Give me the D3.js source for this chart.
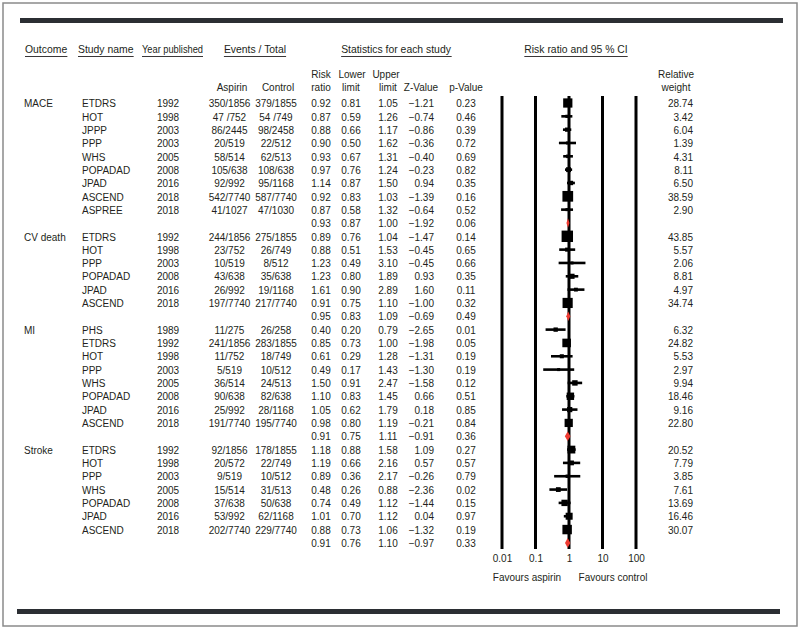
<!DOCTYPE html>
<html><head><meta charset="utf-8">
<script src="https://cdn.jsdelivr.net/npm/d3@7"></script>
<style>
body{margin:0;background:#fff}
text{font-family:"Liberation Sans",Arial,Helvetica,sans-serif;fill:#231f20;font-size:10px}
</style>
</head><body>
<svg id="c" width="800" height="631"></svg>
<script>
// ---------- DATA ----------
const outcomes = ["MACE", "CV death", "MI", "Stroke"];
const studyOutcome = [0,0,0,0,0,0,0,0,0, 1,1,1,1,1,1, 2,2,2,2,2,2,2,2, 3,3,3,3,3,3,3];
const studyNames = ["ETDRS","HOT","JPPP","PPP","WHS","POPADAD","JPAD","ASCEND","ASPREE",
  "ETDRS","HOT","PPP","POPADAD","JPAD","ASCEND",
  "PHS","ETDRS","HOT","PPP","WHS","POPADAD","JPAD","ASCEND",
  "ETDRS","HOT","PPP","WHS","POPADAD","JPAD","ASCEND"];
const years = [1992,1998,2003,2003,2005,2008,2016,2018,2018,
  1992,1998,2003,2008,2016,2018,
  1989,1992,1998,2003,2005,2008,2016,2018,
  1992,1998,2003,2005,2008,2016,2018];
const aspirinEvents = ["350/1856","47 /752","86/2445","20/519","58/514","105/638","92/992","542/7740","41/1027",
  "244/1856","23/752","10/519","43/638","26/992","197/7740",
  "11/275","241/1856","11/752","5/519","36/514","90/638","25/992","191/7740",
  "92/1856","20/572","9/519","15/514","37/638","53/992","202/7740"];
const controlEvents = ["379/1855","54 /749","98/2458","22/512","62/513","108/638","95/1168","587/7740","47/1030",
  "275/1855","26/749","8/512","35/638","19/1168","217/7740",
  "26/258","283/1855","18/749","10/512","24/513","82/638","28/1168","195/7740",
  "178/1855","22/749","10/512","31/513","50/638","62/1168","229/7740"];
const riskRatio = [0.92,0.87,0.88,0.90,0.93,0.97,1.14,0.92,0.87,
  0.89,0.88,1.23,1.23,1.61,0.91,
  0.40,0.85,0.61,0.49,1.50,1.10,1.05,0.98,
  1.18,1.19,0.89,0.48,0.74,1.01,0.88];
const lowerLimit = [0.81,0.59,0.66,0.50,0.67,0.76,0.87,0.83,0.58,
  0.76,0.51,0.49,0.80,0.90,0.75,
  0.20,0.73,0.29,0.17,0.91,0.83,0.62,0.80,
  0.88,0.66,0.36,0.26,0.49,0.70,0.73];
const upperLimit = [1.05,1.26,1.17,1.62,1.31,1.24,1.50,1.03,1.32,
  1.04,1.53,3.10,1.89,2.89,1.10,
  0.79,1.00,1.28,1.43,2.47,1.45,1.79,1.19,
  1.58,2.16,2.17,0.88,1.12,1.12,1.06];
const zValue = [-1.21,-0.74,-0.86,-0.36,-0.40,-0.23,0.94,-1.39,-0.64,
  -1.47,-0.45,-0.45,0.93,1.60,-1.00,
  -2.65,-1.98,-1.31,-1.30,-1.58,0.66,0.18,-0.21,
  1.09,0.57,-0.26,-2.36,-1.44,0.04,-1.32];
const pValue = [0.23,0.46,0.39,0.72,0.69,0.82,0.35,0.16,0.52,
  0.14,0.65,0.66,0.35,0.11,0.32,
  0.01,0.05,0.19,0.19,0.12,0.51,0.85,0.84,
  0.27,0.57,0.79,0.02,0.15,0.97,0.19];
const relWeight = [28.74,3.42,6.04,1.39,4.31,8.11,6.50,38.59,2.90,
  43.85,5.57,2.06,8.81,4.97,34.74,
  6.32,24.82,5.53,2.97,9.94,18.46,9.16,22.80,
  20.52,7.79,3.85,7.61,13.69,16.46,30.07];
const summaryRR = [0.93,0.95,0.91,0.91];
const summaryLower = [0.87,0.83,0.75,0.76];
const summaryUpper = [1.00,1.09,1.11,1.10];
const summaryZ = [-1.92,-0.69,-0.91,-0.97];
const summaryP = [0.06,0.49,0.36,0.33];
const axisTicks = [0.01,0.1,1,10,100];
const tickLabels = ["0.01","0.1","1","10","100"];

// ---------- BUILD ROWS ----------
const rows = [];
outcomes.forEach((o, g) => {
  let first = true;
  studyNames.forEach((s, i) => {
    if (studyOutcome[i] !== g) return;
    rows.push({type:"study", outcome: first ? o : "", name:s, year:years[i], asp:aspirinEvents[i], ctl:controlEvents[i],
      rr:riskRatio[i], lo:lowerLimit[i], hi:upperLimit[i], z:zValue[i], p:pValue[i], w:relWeight[i]});
    first = false;
  });
  rows.push({type:"summary", rr:summaryRR[g], lo:summaryLower[g], hi:summaryUpper[g], z:summaryZ[g], p:summaryP[g]});
});

const svg = d3.select("#c");
const f2 = d3.format(".2f");

// frame
svg.append("rect").attr("x",3).attr("y",3).attr("width",794).attr("height",623)
  .attr("fill","none").attr("stroke","#8a8a8a").attr("stroke-width",1.5);
svg.append("rect").attr("x",20).attr("y",18).attr("width",763).attr("height",5).attr("fill","#2b2e33");
svg.append("rect").attr("x",17).attr("y",609).attr("width",763).attr("height",5).attr("fill","#2b2e33");

// scales
const y = d3.scaleLinear().domain([0, rows.length - 1]).range([103, 103 + (rows.length - 1) * 13.33]);
const x = d3.scaleLog().domain([0.01, 100]).range([502, 636]);
const size = d3.scaleSqrt().domain([0, 40]).range([0, 10.9]);

// columns
const col = {outcome:[24,"start"], name:[82,"start"], year:[168,"middle"], asp:[229.5,"middle"], ctl:[276,"middle"],
  rr:[321,"middle"], lo:[351,"middle"], hi:[388,"middle"], z:[434,"end"], p:[466,"middle"], w:[693,"end"]};

// headers
const h1 = [["Outcome",25,"start"],["Study name",78,"start"],["Events / Total",255,"middle"],
  ["Statistics for each study",396,"middle"],["Risk ratio and 95 % CI",576,"middle"]];
h1.forEach(([t,xx,a]) => {
  const el = svg.append("text").attr("x",xx).attr("y",52.5).attr("text-anchor",a).style("font-size","10.4px").text(t);
  const bb = el.node().getBBox();
  svg.append("line").attr("x1",bb.x).attr("x2",bb.x+bb.width).attr("y1",56.5).attr("y2",56.5)
    .attr("stroke","#231f20").attr("stroke-width",0.9);
});
svg.append("text").attr("x",142).attr("y",52.5).attr("textLength",61).attr("lengthAdjust","spacingAndGlyphs")
  .style("font-size","10.4px").text("Year published");
svg.append("line").attr("x1",142).attr("x2",203).attr("y1",56.5).attr("y2",56.5).attr("stroke","#231f20").attr("stroke-width",0.9);

const h2 = [["Risk",321,78,"middle"],["ratio",321,91,"middle"],["Lower",352,78,"middle"],["limit",351,91,"middle"],
  ["Upper",386,78,"middle"],["limit",388,91,"middle"],["Aspirin",232,91,"middle"],["Control",278,91,"middle"],
  ["Z-Value",421,91,"middle"],["p-Value",466,91,"middle"],["Relative",676,78,"middle"],["weight",676,91,"middle"]];
h2.forEach(([t,xx,yy,a]) => svg.append("text").attr("x",xx).attr("y",yy).attr("text-anchor",a).text(t));

// table text
const tg = svg.append("g");
rows.forEach((r, i) => {
  const by = y(i) + 4.2;
  const put = (k, t) => tg.append("text").attr("x", col[k][0]).attr("y", by).attr("text-anchor", col[k][1]).text(t);
  if (r.type === "study") {
    if (r.outcome) put("outcome", r.outcome);
    put("name", r.name); put("year", r.year); put("asp", r.asp); put("ctl", r.ctl);
    put("w", f2(r.w));
  }
  put("rr", f2(r.rr)); put("lo", f2(r.lo)); put("hi", f2(r.hi)); put("z", f2(r.z)); put("p", f2(r.p));
});

// forest plot grid lines
const plotTop = y(0) - 7, plotBottom = y(rows.length - 1) + 6;
svg.append("g").selectAll("line").data(axisTicks).join("line")
  .attr("x1", d => x(d)).attr("x2", d => x(d)).attr("y1", plotTop).attr("y2", plotBottom)
  .attr("stroke", "#000").attr("stroke-width", 3);

// axis labels
const ax = svg.append("g").attr("transform", `translate(0,${plotBottom + 2})`)
  .call(d3.axisBottom(x).tickValues(axisTicks).tickFormat((d, i) => tickLabels[i]).tickSize(0).tickPadding(4));
ax.select(".domain").remove();
ax.attr("font-family", null).attr("font-size", null);
ax.selectAll("text").style("font-size","10px").style("fill","#231f20");

svg.append("text").attr("x",527).attr("y",581).attr("text-anchor","middle").text("Favours aspirin");
svg.append("text").attr("x",613).attr("y",581).attr("text-anchor","middle").text("Favours control");

// study markers
const pg = svg.append("g");
rows.forEach((r, i) => {
  if (r.type === "study") {
    pg.append("line").attr("x1", x(r.lo)).attr("x2", x(r.hi)).attr("y1", y(i)).attr("y2", y(i))
      .attr("stroke", "#000").attr("stroke-width", 2.6);
    const s = Math.max(size(r.w), 3);
    pg.append("rect").attr("x", x(r.rr) - s/2).attr("y", y(i) - s/2).attr("width", s).attr("height", s).attr("fill", "#000");
  } else {
    const hw = 4.8;
    const lo = Math.min(x(r.lo), x(r.rr) - 1.5), hi = Math.max(x(r.hi), x(r.rr) + 1.5);
    pg.append("path").attr("d", `M${lo},${y(i)}L${x(r.rr)},${y(i)-hw}L${hi},${y(i)}L${x(r.rr)},${y(i)+hw}Z`)
      .attr("fill", "#ee3b32");
  }
});
</script>
</body></html>
